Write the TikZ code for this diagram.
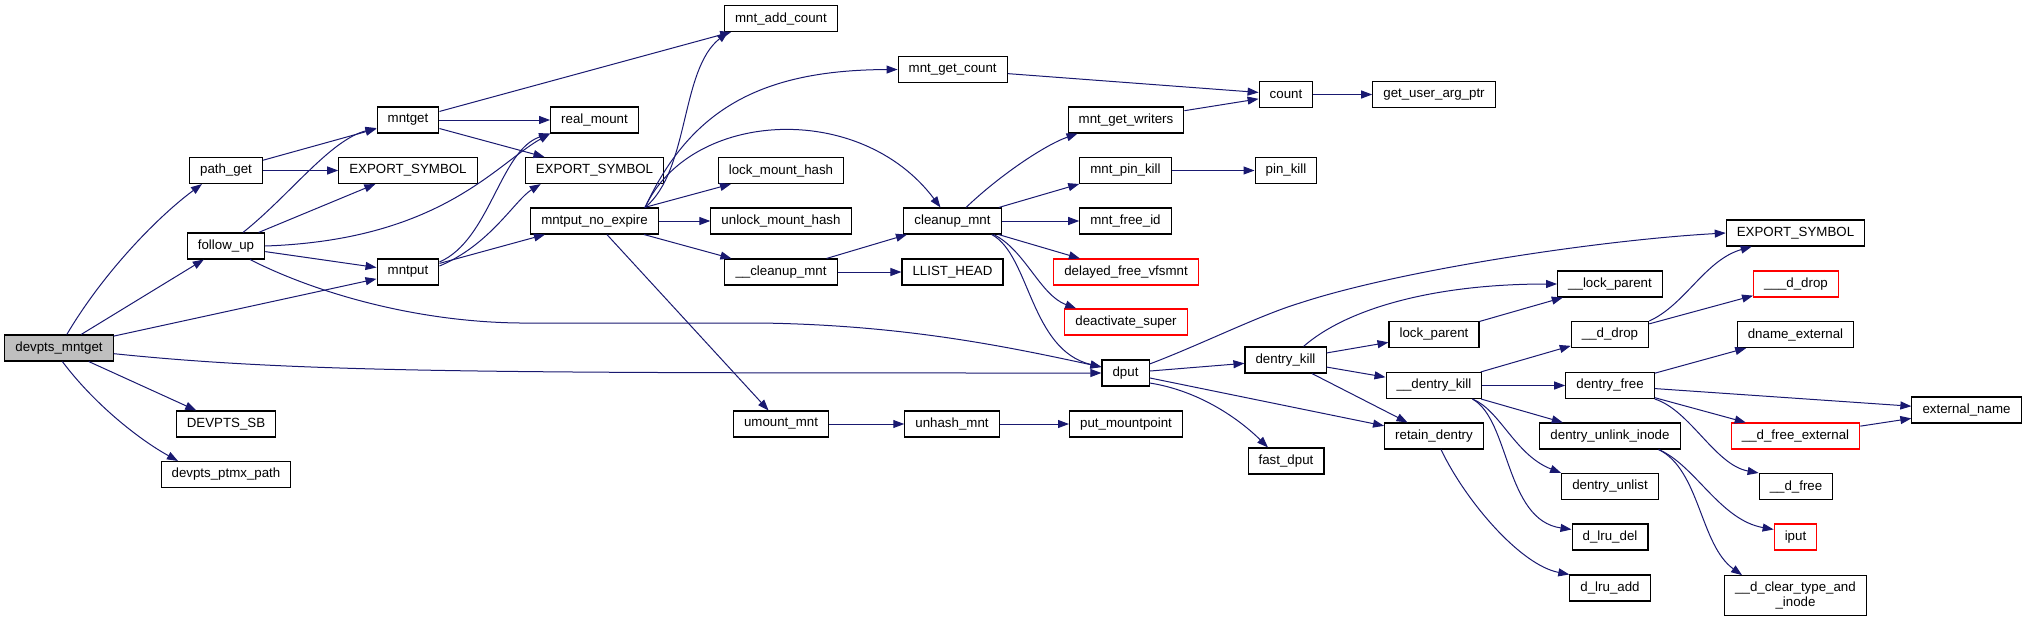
\documentclass[tikz,border=0pt]{standalone}
\usepackage{fontspec}
\setmainfont{Liberation Sans}
\usepackage{xcolor}
\usepackage{tikz}
\usetikzlibrary{arrows.meta}
\definecolor{edgeblue}{RGB}{25,25,112}
\definecolor{rootgray}{RGB}{191,191,191}
\definecolor{truncred}{RGB}{255,0,0}

\begin{document}
\begin{tikzpicture}[x=0.5pt, y=0.5pt,
		box/.style={draw, line width=0.55pt, fill=white, inner xsep=5.3pt, inner ysep=0pt,
					minimum height=13pt, align=center, font=\fontsize{6.65}{7.6}\selectfont},
		focus/.style={box, fill=rootgray},
		trunc/.style={box, draw=truncred},
		arrow/.style={-{Triangle[length=5.5pt, width=4pt]}, line width=0.5pt, edgeblue}
	]
		\useasboundingbox (0,0) rectangle (2025,-622);

		\node[focus] (root) at (59,-348) {devpts\_mntget};
		\node[box] (pathget) at (226,-170.5) {path\_get};
		\node[box] (followup) at (226,-246) {follow\_up};
		\node[box] (devptssb) at (226,-424) {DEVPTS\_SB};
		\node[box] (ptmxpath) at (226,-474.5) {devpts\_ptmx\_path};
		\node[box] (mntget) at (408,-120) {mntget};
		\node[box] (exporta) at (408,-170.5) {EXPORT\_SYMBOL};
		\node[box] (mntput) at (408,-272) {mntput};
		\node[box] (realmount) at (594.5,-120) {real\_mount};
		\node[box] (exportb) at (594.5,-170.5) {EXPORT\_SYMBOL};
		\node[box] (noexpire) at (594.5,-221) {mntput\_no\_expire};
		\node[box] (addcount) at (781,-18.5) {mnt\_add\_count};
		\node[box] (lockmh) at (781,-170.5) {lock\_mount\_hash};
		\node[box] (unlockmh) at (781,-221) {unlock\_mount\_hash};
		\node[box] (ucleanup) at (781,-272) {\_\_cleanup\_mnt};
		\node[box] (umount) at (781,-424) {umount\_mnt};
		\node[box] (getcount) at (952.7,-69.5) {mnt\_get\_count};
		\node[box] (cleanup) at (952.5,-221) {cleanup\_mnt};
		\node[box] (llist) at (952.5,-272) {LLIST\_HEAD};
		\node[box] (unhash) at (952,-424) {unhash\_mnt};
		\node[box] (writers) at (1126,-120) {mnt\_get\_writers};
		\node[box] (mntpinkill) at (1125.5,-170.5) {mnt\_pin\_kill};
		\node[box] (freeid) at (1125.5,-221) {mnt\_free\_id};
		\node[trunc] (delayed) at (1126,-272) {delayed\_free\_vfsmnt};
		\node[trunc] (deact) at (1126,-322) {deactivate\_super};
		\node[box] (dput) at (1125.5,-373) {dput};
		\node[box] (putmp) at (1126,-424) {put\_mountpoint};
		\node[box] (count) at (1286,-94.5) {count};
		\node[box] (pinkill) at (1286,-170.5) {pin\_kill};
		\node[box] (dkill) at (1285.5,-360) {dentry\_kill};
		\node[box] (fastdput) at (1286,-461) {fast\_dput};
		\node[box] (getuser) at (1434,-94.5) {get\_user\_arg\_ptr};
		\node[box] (lockp) at (1434,-334.5) {lock\_parent};
		\node[box] (udkill) at (1434,-385.5) {\_\_dentry\_kill};
		\node[box] (retain) at (1434,-436) {retain\_dentry};
		\node[box] (ulockp) at (1610,-284) {\_\_lock\_parent};
		\node[box] (udrop) at (1610,-334.5) {\_\_d\_drop};
		\node[box] (dfree) at (1610,-385.5) {dentry\_free};
		\node[box] (unlink) at (1610,-436) {dentry\_unlink\_inode};
		\node[box] (unlist) at (1610,-486.5) {dentry\_unlist};
		\node[box] (lrudel) at (1610,-537) {d\_lru\_del};
		\node[box] (lruadd) at (1610,-588) {d\_lru\_add};
		\node[box] (exportc) at (1795.5,-233) {EXPORT\_SYMBOL};
		\node[trunc] (udropr) at (1796,-284) {\_\_\_d\_drop};
		\node[box] (dname) at (1795.5,-334.5) {dname\_external};
		\node[trunc] (ufreeext) at (1795.5,-436) {\_\_d\_free\_external};
		\node[box] (ufree) at (1796,-486.5) {\_\_d\_free};
		\node[trunc] (iput) at (1795.5,-537) {iput};
		\node[box, minimum height=20pt] (clear) at (1795.5,-595.7) {\_\_d\_clear\_type\_and\\\_inode};
		\node[box] (extname) at (1966.5,-410) {external\_name};

		\draw[arrow] (root.60) .. controls (105,-270) and (160,-215) .. ([xshift=-12pt]pathget.south);
		\draw[arrow] (root) -- (followup);
		\draw[arrow] (root) -- (mntput);
		\draw[arrow] (root) .. controls (300,-373) and (500,-373) .. (dput);
		\draw[arrow] (root) -- (devptssb);
		\draw[arrow] (root.284) .. controls (95,-405) and (140,-440) .. ([xshift=-24pt]ptmxpath.north);
		\draw[arrow] (pathget) -- (mntget);
		\draw[arrow] (pathget) -- (exporta);
		\draw[arrow] (followup) .. controls (290,-195) and (330,-140) .. (mntget);
		\draw[arrow] (followup) -- (exporta);
		\draw[arrow] (followup.east) .. controls (440,-240) and (495,-165) .. (realmount.south west);
		\draw[arrow] (followup) -- (mntput);
		\draw[arrow] ([xshift=12pt]followup.south) .. controls (320,-295) and (420,-322) .. (520,-323)
			-- (760,-323) .. controls (900,-325) and (1000,-345) .. ([yshift=3pt]dput.west);
		\draw[arrow] (mntget) -- (addcount);
		\draw[arrow] (mntget) -- (realmount);
		\draw[arrow] (mntget) -- (exportb);
		\draw[arrow] ([yshift=5pt]mntput.east) .. controls (490,-240) and (500,-150) .. (realmount.south west);
		\draw[arrow] ([yshift=3pt]mntput.east) .. controls (490,-245) and (515,-200) .. ([xshift=8pt]exportb.south west);
		\draw[arrow] (mntput) -- (noexpire);
		\draw[arrow] (noexpire.15) .. controls (690,-170) and (680,-70) .. ([xshift=2pt]addcount.south west);
		\draw[arrow] (noexpire.15) .. controls (690,-110) and (760,-70) .. (getcount.west);
		\draw[arrow] (noexpire.15) .. controls (690,-110) and (860,-100) .. ([xshift=-6pt]cleanup.north);
		\draw[arrow] (noexpire) -- (lockmh);
		\draw[arrow] (noexpire) -- (unlockmh);
		\draw[arrow] (noexpire) -- (ucleanup);
		\draw[arrow] (noexpire) -- (umount);
		\draw[arrow] (getcount) -- (count);
		\draw[arrow] (writers) -- (count);
		\draw[arrow] (count) -- (getuser);
		\draw[arrow] (cleanup.45) .. controls (1000,-175) and (1045,-145) .. ([xshift=5pt]writers.south west);
		\draw[arrow] (cleanup) -- (mntpinkill);
		\draw[arrow] (cleanup) -- (freeid);
		\draw[arrow] (cleanup) -- (delayed);
		\draw[arrow] ([xshift=-4pt]cleanup.south east) .. controls (1025,-250) and (1040,-295) .. ([xshift=6pt]deact.north west);
		\draw[arrow] ([xshift=-5pt]cleanup.south east) .. controls (1030,-255) and (1030,-350) .. ([yshift=3pt]dput.west);
		\draw[arrow] (mntpinkill) -- (pinkill);
		\draw[arrow] (ucleanup) -- (cleanup);
		\draw[arrow] (ucleanup) -- (llist);
		\draw[arrow] (umount) -- (unhash);
		\draw[arrow] (unhash) -- (putmp);
		\draw[arrow] ([yshift=4.5pt]dput.east) .. controls (1200,-345) and (1260,-315) .. (1300,-303)
			.. controls (1400,-270) and (1600,-240) .. (exportc.west);
		\draw[arrow] (dput) -- (dkill);
		\draw[arrow] (dput) -- (retain);
		\draw[arrow] ([yshift=-5pt]dput.east) .. controls (1195,-390) and (1235,-415) .. ([xshift=-9pt]fastdput.north);
		\draw[arrow] ([xshift=9pt]dkill.north) .. controls (1345,-310) and (1430,-284) .. (ulockp.west);
		\draw[arrow] (dkill) -- (lockp);
		\draw[arrow] (dkill) -- (udkill);
		\draw[arrow] (dkill) -- (retain);
		\draw[arrow] (lockp) -- (ulockp);
		\draw[arrow] (udkill) -- (udrop);
		\draw[arrow] (udkill) -- (dfree);
		\draw[arrow] (udkill) -- (unlink);
		\draw[arrow] ([xshift=-5pt]udkill.south east) .. controls (1500,-410) and (1515,-455) .. (unlist.north west);
		\draw[arrow] ([xshift=-5pt]udkill.south east) .. controls (1510,-420) and (1505,-520) .. ([yshift=-3pt]lrudel.north west);
		\draw[arrow] (udrop.north east) .. controls (1685,-305) and (1705,-260) .. ([xshift=13pt]exportc.south west);
		\draw[arrow] (udrop) -- (udropr);
		\draw[arrow] (dfree) -- (dname);
		\draw[arrow] (dfree) -- (extname);
		\draw[arrow] (dfree) -- (ufreeext);
		\draw[arrow] (dfree.south east) .. controls (1690,-410) and (1715,-465) .. (ufree.north west);
		\draw[arrow] (ufreeext) -- (extname);
		\draw[arrow] ([xshift=-11pt]unlink.south east) .. controls (1695,-465) and (1720,-520) .. ([yshift=-3pt]iput.north west);
		\draw[arrow] ([xshift=-11pt]unlink.south east) .. controls (1700,-470) and (1700,-545) .. ([xshift=9pt]clear.north west);
		\draw[arrow] ([xshift=3.5pt]retain.south) .. controls (1465,-500) and (1520,-565) .. (lruadd.north west);
	\end{tikzpicture}
\end{document}
